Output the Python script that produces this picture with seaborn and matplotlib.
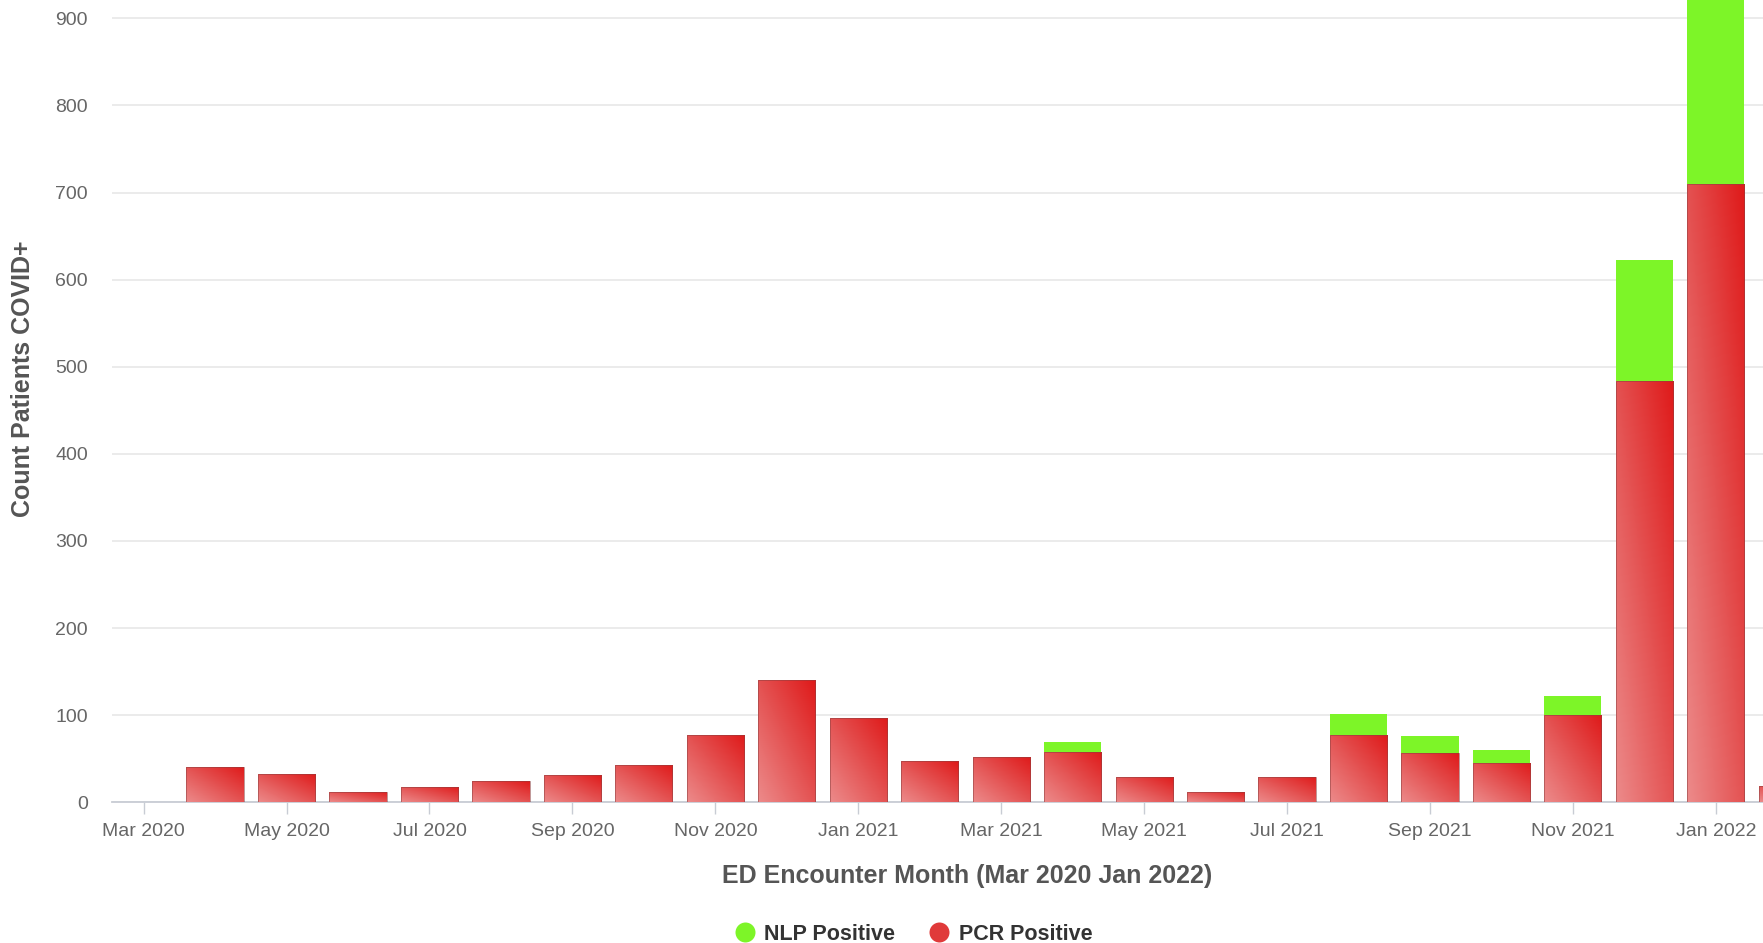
import numpy as np
import pandas as pd
import matplotlib
matplotlib.use("Agg")
import matplotlib.pyplot as plt
import seaborn as sns
from matplotlib.colors import LinearSegmentedColormap
from matplotlib.lines import Line2D

# Monthly ED encounters with a COVID+ finding
months = [
    "Mar 2020", "Apr 2020", "May 2020", "Jun 2020", "Jul 2020", "Aug 2020",
    "Sep 2020", "Oct 2020", "Nov 2020", "Dec 2020", "Jan 2021", "Feb 2021",
    "Mar 2021", "Apr 2021", "May 2021", "Jun 2021", "Jul 2021", "Aug 2021",
    "Sep 2021", "Oct 2021", "Nov 2021", "Dec 2021", "Jan 2022", "Feb 2022",
]
pcr_positive = [0, 41, 33, 12, 18, 24, 31, 43, 77, 140, 97, 47,
                52, 58, 29, 12, 29, 77, 57, 45, 100, 484, 710, 19]
nlp_positive = [0, 0, 0, 0, 0, 0, 0, 0, 0, 0, 0, 0,
                0, 11, 0, 0, 0, 24, 19, 15, 22, 138, 290, 0]
y_ticks = [0, 100, 200, 300, 400, 500, 600, 700, 800, 900]

df = pd.DataFrame({"month": months, "pcr": pcr_positive, "nlp": nlp_positive})
df["total"] = df["pcr"] + df["nlp"]

sns.set_theme(style="white")
plt.rcParams["font.family"] = ["Liberation Sans", "DejaVu Sans"]

W, H = 1763, 943
fig = plt.figure(figsize=(W / 100, H / 100), dpi=100)
ax = fig.add_axes([112 / W, 140.7 / H, 1 - 112 / W, 1 - 140.7 / H])

GREEN = "#7df528"
RED = "#e03a3a"

# Stack: full-height green bars, with PCR bars drawn over them
sns.barplot(data=df, x="month", y="total", order=months, color=GREEN,
            saturation=1, width=0.8, errorbar=None, ax=ax, zorder=2,
            linewidth=0)
n_green = len(ax.patches)
sns.barplot(data=df, x="month", y="pcr", order=months, color=RED,
            saturation=1, width=0.8, errorbar=None, ax=ax, zorder=3)
red_patches = ax.patches[n_green:]

# Diagonal gradient fill for the PCR segments
red_cmap = LinearSegmentedColormap.from_list(
    "pcr", ["#ec8a8a", "#e45252", "#df1a1a"])
gx, gy = np.meshgrid(np.linspace(0, 1, 64), np.linspace(0, 1, 64))
grad = (gx + gy) / 2
for p in red_patches:
    x0, y0 = p.get_x(), p.get_y()
    w, h = p.get_width(), p.get_height()
    if h <= 0:
        p.set_visible(False)
        continue
    im = ax.imshow(grad, cmap=red_cmap, vmin=0, vmax=1, origin="lower",
                   extent=(x0, x0 + w, y0, y0 + h), aspect="auto",
                   interpolation="bilinear", zorder=3.5)
    im.set_clip_path(p)
    p.set_facecolor("none")
    p.set_edgecolor((0.55, 0.25, 0.25, 0.55))
    p.set_linewidth(0.7)
    p.set_zorder(4)

ax.set_xlim(-0.442, 22.66)
ax.set_ylim(0, 921)
ax.set_aspect("auto")

tick_pos = list(range(0, 23, 2))
ax.set_xticks(tick_pos)
ax.set_xticklabels([months[i] for i in tick_pos])
ax.set_yticks(y_ticks)
ax.set_xlabel("")
ax.set_ylabel("")

ax.grid(axis="y", color="#e6e6e6", linewidth=1.1)
ax.grid(axis="x", visible=False)
ax.set_axisbelow(True)
for side in ["top", "right", "left"]:
    ax.spines[side].set_visible(False)
ax.spines["bottom"].set_color("#c8ccd4")
ax.spines["bottom"].set_linewidth(1.3)

ax.tick_params(axis="x", length=8.6, width=1, color="#c8ccd4",
               labelsize=14, labelcolor="#666666", pad=6, direction="out",
               bottom=True)
ax.tick_params(axis="y", length=0, pad=17.3, labelsize=14,
               labelcolor="#666666")

fig.text(967.5 / W, 1 - 875.5 / H, "ED Encounter Month (Mar 2020 Jan 2022)",
         ha="center", va="center", fontsize=18, fontweight="bold",
         color="#555555")
fig.text(23 / W, 1 - 379 / H, "Count Patients COVID+", rotation=90,
         ha="center", va="center", fontsize=18, fontweight="bold",
         color="#555555")

handles = [
    Line2D([], [], marker="o", linestyle="none", markersize=14.4,
           markerfacecolor=GREEN, markeredgecolor="none",
           label="NLP Positive"),
    Line2D([], [], marker="o", linestyle="none", markersize=14.4,
           markerfacecolor=RED, markeredgecolor="none",
           label="PCR Positive"),
]
fig.legend(handles=handles, loc="center", bbox_to_anchor=(913 / W, 8.8 / H),
           ncol=2, frameon=False, prop={"weight": "bold", "size": 15.5},
           labelcolor="#333333", handlelength=1.0, handletextpad=0.4,
           columnspacing=1.55, borderpad=0)

fig.savefig("out.png", dpi=100)
